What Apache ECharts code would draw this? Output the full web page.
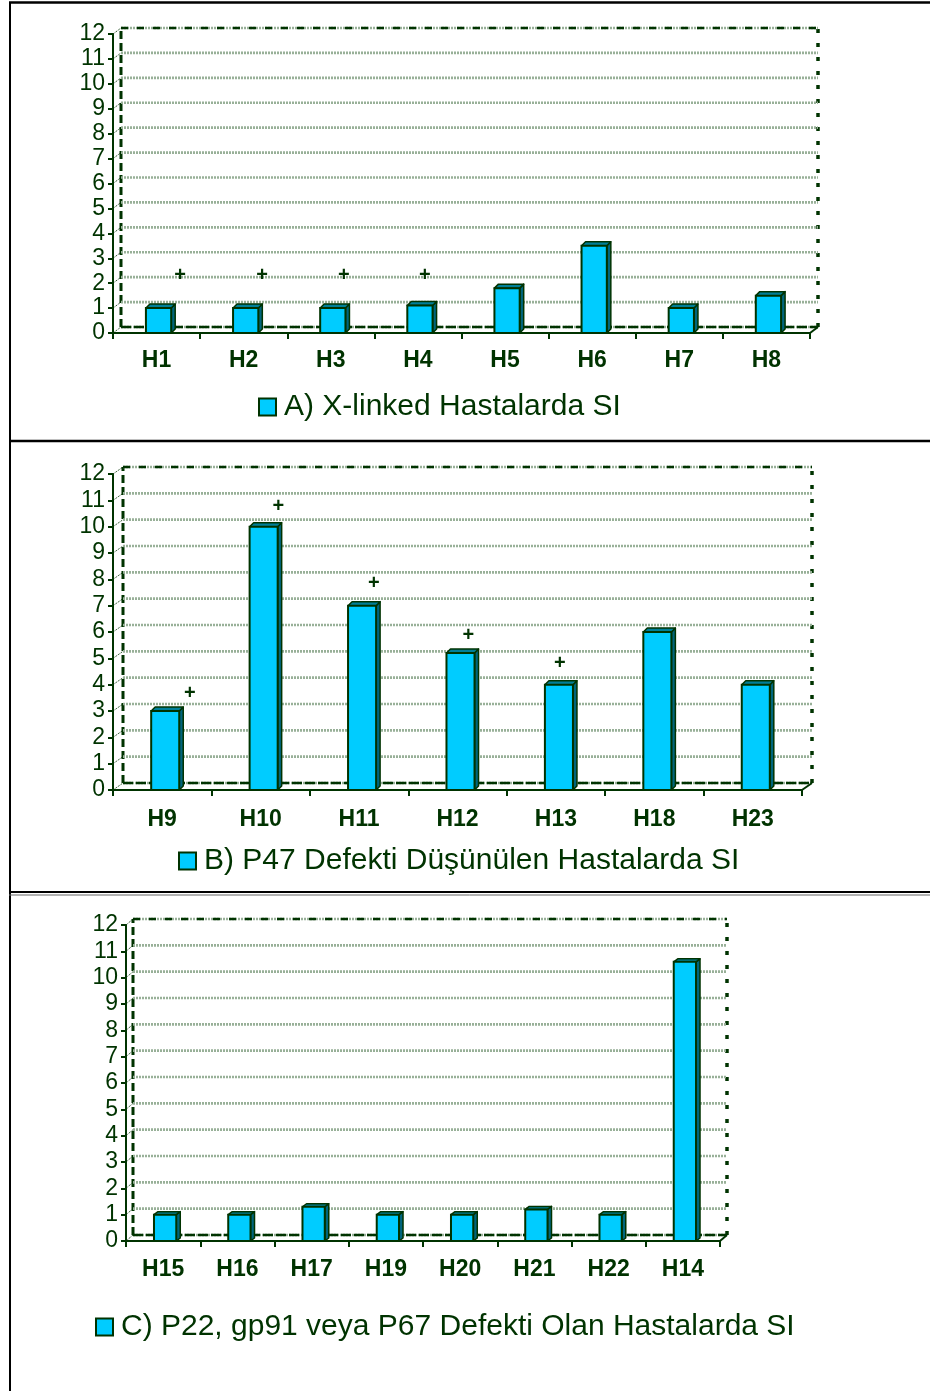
<!DOCTYPE html>
<html>
<head>
<meta charset="utf-8">
<script src="https://cdn.jsdelivr.net/npm/echarts@6/dist/echarts.min.js"></script>
<style>
  html, body { margin: 0; padding: 0; background: #fff; }
  #chart { width: 930px; height: 1391px; }
</style>
</head>
<body>
<div id="chart"></div>
<script>
// ---- data ----
const yTicks = [0, 1, 2, 3, 4, 5, 6, 7, 8, 9, 10, 11, 12];

const catsA = ['H1', 'H2', 'H3', 'H4', 'H5', 'H6', 'H7', 'H8'];
const siA = [1.0, 1.0, 1.0, 1.1, 1.8, 3.5, 1.0, 1.5];
// "+" marks: [position in category units, SI level]
const plusA = [[0.77, 2.3], [1.71, 2.3], [2.65, 2.3], [3.58, 2.3]];
const nameA = 'A) X-linked Hastalarda SI';

const catsB = ['H9', 'H10', 'H11', 'H12', 'H13', 'H18', 'H23'];
const siB = [3.0, 10.0, 7.0, 5.2, 4.0, 6.0, 4.0];
const plusB = [[0.78, 3.68], [1.68, 10.75], [2.65, 7.86], [3.61, 5.85], [4.54, 4.82]];
const nameB = 'B) P47 Defekti Düşünülen Hastalarda SI';

const catsC = ['H15', 'H16', 'H17', 'H19', 'H20', 'H21', 'H22', 'H14'];
const siC = [1.0, 1.0, 1.3, 1.0, 1.0, 1.2, 1.0, 10.6];
const plusC = [];
const nameC = 'C) P22, gp91 veya P67 Defekti Olan Hastalarda SI';

// ---- styling / layout ----
const FONT = '"Liberation Sans", Arial, sans-serif';
const INK = '#003300';
const GRIDLINE = '#98b098';

const panels = [
  { cats: catsA, si: siA, plus: plusA, name: nameA,
    grid: { left: 113, top: 34, width: 697, height: 299 },
    wall: [8, -6], depth: [4, -4], barRatio: 0.29, shift: 2, xMargin: 16,
    legend: { left: 258, top: 392 } },
  { cats: catsB, si: siB, plus: plusB, name: nameB,
    grid: { left: 113, top: 474, width: 689, height: 316 },
    wall: [10, -7], depth: [4, -4], barRatio: 0.285, shift: 3, xMargin: 18,
    legend: { left: 178, top: 846 } },
  { cats: catsC, si: siC, plus: plusC, name: nameC,
    grid: { left: 126, top: 925, width: 594, height: 316 },
    wall: [7, -6], depth: [4, -3], barRatio: 0.30, shift: 2, xMargin: 17,
    legend: { left: 95, top: 1312 } }
];

// back wall, side wall and floor of the 3D frame
function frameItem(p) {
  return function (params, api) {
    const v = api.value(1);
    const n = p.cats.length;
    const band = api.size([1, 0])[0];
    const c0 = api.coord([0, v]);
    const c1 = api.coord([n - 1, v]);
    const xl = c0[0] - band / 2, xr = c1[0] + band / 2, y = c0[1];
    const dx = p.wall[0], dy = p.wall[1];
    const ch = [];
    ch.push({ type: 'line', shape: { x1: xl + dx, y1: y + dy, x2: xr + dx, y2: y + dy },
      style: { stroke: GRIDLINE, lineWidth: 2.6, lineDash: [2, 1] } });
    ch.push({ type: 'line', shape: { x1: xl, y1: y, x2: xl + dx, y2: y + dy },
      style: { stroke: INK, lineWidth: 1, lineDash: [1, 1] } });
    if (v === 12) {
      ch.push({ type: 'line', shape: { x1: xl + dx, y1: y + dy, x2: xr + dx, y2: y + dy },
        style: { stroke: INK, lineWidth: 2.5, lineDash: [7, 9] } });
    }
    if (v === 0) {
      const yTop = api.coord([0, 12])[1];
      ch.push({ type: 'line', shape: { x1: xl + dx, y1: y + dy, x2: xr + dx, y2: y + dy },
        style: { stroke: INK, lineWidth: 2.5, lineDash: [10, 3] } });
      ch.push({ type: 'line', shape: { x1: xl + dx, y1: y + dy, x2: xl + dx, y2: yTop + dy },
        style: { stroke: INK, lineWidth: 3, lineDash: [8, 4] } });
      ch.push({ type: 'line', shape: { x1: xr + dx, y1: y + dy, x2: xr + dx, y2: yTop + dy },
        style: { stroke: INK, lineWidth: 3.5, lineDash: [4, 10] } });
      ch.push({ type: 'line', shape: { x1: xr, y1: y, x2: xr + dx, y2: y + dy },
        style: { stroke: INK, lineWidth: 2 } });
    }
    return { type: 'group', children: ch };
  };
}

// 3D-looking column: front face, right side, top
function barItem(p) {
  return function (params, api) {
    const i = api.value(0), v = api.value(1);
    const top = api.coord([i, v]);
    const base = api.coord([i, 0]);
    const w = api.size([1, 0])[0] * p.barRatio;
    const ddx = p.depth[0], ddy = p.depth[1];
    const xl = top[0] - w / 2 + p.shift, xr = xl + w;
    const yt = top[1], yb = base[1];
    return {
      type: 'group',
      children: [
        { type: 'polygon',
          shape: { points: [[xr, yt], [xr + ddx, yt + ddy], [xr + ddx, yb + ddy], [xr, yb]] },
          style: { fill: '#00657d', stroke: INK, lineWidth: 1.5, lineJoin: 'round' } },
        { type: 'polygon',
          shape: { points: [[xl, yt], [xl + ddx, yt + ddy], [xr + ddx, yt + ddy], [xr, yt]] },
          style: { fill: '#007f99', stroke: INK, lineWidth: 1.5, lineJoin: 'round' } },
        { type: 'rect', shape: { x: xl, y: yt, width: w, height: yb - yt },
          style: { fill: '#00CCFF', stroke: INK, lineWidth: 2 } }
      ]
    };
  };
}

function plusItem(params, api) {
  const c = api.coord([api.value(0), api.value(1)]);
  return { type: 'text', x: c[0], y: c[1],
    style: { text: '+', fontSize: 20, fontWeight: 'bold', fill: INK,
      align: 'center', verticalAlign: 'middle', fontFamily: FONT } };
}

const grid = [], xAxis = [], yAxis = [], series = [], legend = [];
panels.forEach((p, k) => {
  grid.push(Object.assign({ containLabel: false }, p.grid));
  xAxis.push({
    type: 'category', gridIndex: k, data: p.cats,
    axisLine: { show: true, lineStyle: { color: INK, width: 2 } },
    axisTick: { show: true, length: 6, lineStyle: { color: INK, width: 2 } },
    axisLabel: { fontSize: 23, fontWeight: 'bold', color: INK, fontFamily: FONT, margin: p.xMargin },
    splitLine: { show: false }
  });
  xAxis.push({ type: 'value', gridIndex: k, min: 0, max: p.cats.length, show: false });
  yAxis.push({
    type: 'value', gridIndex: k, min: 0, max: 12, interval: 1,
    axisLine: { show: true, lineStyle: { color: INK, width: 2 } },
    axisTick: { show: true, length: 5, lineStyle: { color: INK, width: 2 } },
    axisLabel: { fontSize: 23, color: INK, fontFamily: FONT, margin: 8 },
    splitLine: { show: false }
  });
  series.push({
    type: 'custom', name: 'frame' + k, xAxisIndex: 2 * k, yAxisIndex: k,
    silent: true, z: 1, renderItem: frameItem(p),
    data: yTicks.map(v => [0, v])
  });
  series.push({
    type: 'custom', name: p.name, xAxisIndex: 2 * k, yAxisIndex: k,
    z: 3, renderItem: barItem(p),
    itemStyle: { color: '#00CCFF', borderColor: INK, borderWidth: 2 },
    data: p.si.map((v, j) => [j, v])
  });
  series.push({
    type: 'custom', name: 'plus' + k, xAxisIndex: 2 * k + 1, yAxisIndex: k,
    silent: true, z: 4, renderItem: plusItem,
    data: p.plus
  });
  legend.push({
    data: [p.name], left: p.legend.left, top: p.legend.top,
    icon: 'rect', itemWidth: 17, itemHeight: 17, padding: 0, itemGap: 0,
    selectedMode: false,
    itemStyle: { color: '#00CCFF', borderColor: INK, borderWidth: 2 },
    textStyle: { fontSize: 30, color: INK, fontFamily: FONT, padding: [0, 0, 0, 3] }
  });
});

const chart = echarts.init(document.getElementById('chart'), null, { renderer: 'canvas' });
chart.setOption({
  animation: false,
  backgroundColor: '#ffffff',
  grid, xAxis, yAxis, series, legend,
  graphic: [
    { type: 'line', shape: { x1: 9, y1: 2.5, x2: 930, y2: 2.5 }, style: { stroke: '#000', lineWidth: 2.5 } },
    { type: 'line', shape: { x1: 10, y1: 2, x2: 10, y2: 1391 }, style: { stroke: '#000', lineWidth: 2 } },
    { type: 'line', shape: { x1: 9, y1: 441, x2: 930, y2: 441 }, style: { stroke: '#000', lineWidth: 2.5 } },
    { type: 'line', shape: { x1: 9, y1: 892, x2: 930, y2: 892 }, style: { stroke: '#000', lineWidth: 2 } },
    { type: 'line', shape: { x1: 9, y1: 895, x2: 930, y2: 895 }, style: { stroke: '#666', lineWidth: 1 } }
  ]
});
</script>
</body>
</html>
